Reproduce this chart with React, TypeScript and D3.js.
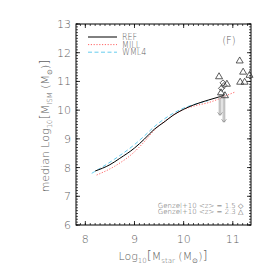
import React from "react";
import { scaleLinear, line, curveMonotoneX, range } from "d3";

// median relation curves (log Mstar, log MISM)
const refX = [8.2, 8.5, 8.7, 9.0, 9.2, 9.4, 9.6, 9.8, 10.0, 10.2, 10.5, 10.7, 10.82];
const refY = [7.88, 8.1, 8.32, 8.68, 8.99, 9.33, 9.58, 9.84, 10.03, 10.18, 10.35, 10.45, 10.52];

const millX = [8.23, 8.6, 9.0, 9.2, 9.4, 9.7, 10.0, 10.3, 10.5, 10.7, 10.9, 11.06];
const millY = [7.74, 8.05, 8.55, 8.9, 9.3, 9.72, 10.02, 10.18, 10.26, 10.38, 10.53, 10.64];

const wmlX = [8.13, 8.6, 9.0, 9.2, 9.4, 9.7, 10.0, 10.3, 10.5];
const wmlY = [7.8, 8.3, 8.8, 9.1, 9.42, 9.8, 10.07, 10.24, 10.33];

// Genzel+10 observations
const z15X = [10.8, 10.82, 10.77];
const z15Y = [10.95, 10.86, 10.76];
const z23X = [10.72, 10.88, 10.76, 10.84, 11.14, 11.21, 11.15, 11.24, 11.34];
const z23Y = [11.18, 10.92, 10.62, 10.52, 11.73, 11.34, 10.99, 10.99, 11.23];
const limX = [10.74, 10.82];
const limTop = [10.56, 10.52];
const limBot = [9.82, 9.58];

const xTicks = [8, 9, 10, 11];
const yTicks = [6, 7, 8, 9, 10, 11, 12, 13];

const legendNames = ["REF", "MILL", "WML4"];
const legendColors = ["#000000", "#ff6666", "#66ccee"];
const legendDash = ["none", "1.2,1.6", "4,2.5"];

export default function App() {
  const W = 274, H = 274;
  const left = 76, right = 251, top = 24, bottom = 225;
  const x = scaleLinear().domain([7.81, 11.37]).range([left, right]);
  const y = scaleLinear().domain([6, 13]).range([bottom, top]);
  const txt = "#606060";
  const font = "DejaVu Sans, sans-serif";

  const mk = (xs: number[], ys: number[]) =>
    line<number>().x((d) => x(xs[d])).y((d) => y(ys[d])).curve(curveMonotoneX)(range(xs.length)) as string;

  const xMinor = range(78, 114).map((d) => d / 10).filter((d) => x(d) >= left && x(d) <= right);
  const yMinor = range(60, 131).map((d) => d / 10);

  const tri = (cx: number, cy: number) =>
    `M${cx},${cy - 3.5}L${cx + 3.5},${cy + 2.5}L${cx - 3.5},${cy + 2.5}Z`;
  const dia = (cx: number, cy: number) =>
    `M${cx},${cy - 3}L${cx + 3},${cy}L${cx},${cy + 3}L${cx - 3},${cy}Z`;

  return (
    <svg width={W} height={H} style={{ position: "absolute", left: 0, top: 0, background: "#fff" }}>
      <g fontFamily={font} fontWeight={200} fill={txt}>
        {/* ticks */}
        {xMinor.map((d) => (
          <g key={"xm" + d} stroke="#000" strokeWidth={0.7}>
            <line x1={x(d)} x2={x(d)} y1={bottom} y2={bottom - 2} />
            <line x1={x(d)} x2={x(d)} y1={top} y2={top + 2} />
          </g>
        ))}
        {yMinor.map((d) => (
          <g key={"ym" + d} stroke="#000" strokeWidth={0.7}>
            <line x1={left} x2={left + 2} y1={y(d)} y2={y(d)} />
            <line x1={right} x2={right - 2} y1={y(d)} y2={y(d)} />
          </g>
        ))}
        {xTicks.map((d) => (
          <g key={"xt" + d}>
            <line x1={x(d)} x2={x(d)} y1={bottom} y2={bottom - 4} stroke="#000" strokeWidth={0.8} />
            <line x1={x(d)} x2={x(d)} y1={top} y2={top + 4} stroke="#000" strokeWidth={0.8} />
            <text x={x(d)} y={243} fontSize={11} textAnchor="middle">{d}</text>
          </g>
        ))}
        {yTicks.map((d) => (
          <g key={"yt" + d}>
            <line x1={left} x2={left + 4} y1={y(d)} y2={y(d)} stroke="#000" strokeWidth={0.8} />
            <line x1={right} x2={right - 4} y1={y(d)} y2={y(d)} stroke="#000" strokeWidth={0.8} />
            <text x={71} y={y(d) + 4} fontSize={11} textAnchor="end">{d}</text>
          </g>
        ))}
        <rect x={left} y={top} width={right - left} height={bottom - top} fill="none" stroke="#000" strokeWidth={1} />

        {/* curves */}
        <path d={mk(wmlX, wmlY)} fill="none" stroke={legendColors[2]} strokeWidth={1} strokeDasharray={legendDash[2]} />
        <path d={mk(millX, millY)} fill="none" stroke={legendColors[1]} strokeWidth={1} strokeDasharray={legendDash[1]} />
        <path d={mk(refX, refY)} fill="none" stroke={legendColors[0]} strokeWidth={1} />

        {/* upper limits */}
        {limX.map((d, i) => (
          <g key={"lim" + i} stroke="#888" strokeWidth={0.7} fill="none">
            <line x1={x(d) - 0.8} x2={x(d) - 0.8} y1={y(limTop[i])} y2={y(limBot[i])} />
            <line x1={x(d) + 0.8} x2={x(d) + 0.8} y1={y(limTop[i])} y2={y(limBot[i])} />
            <path d={`M${x(d) - 2.5},${y(limBot[i]) - 3}L${x(d)},${y(limBot[i])}L${x(d) + 2.5},${y(limBot[i]) - 3}`} />
          </g>
        ))}
        {z15X.map((d, i) => (
          <path key={"d" + i} d={dia(x(d), y(z15Y[i]))} fill="none" stroke="#333" strokeWidth={0.8} />
        ))}
        {z23X.map((d, i) => (
          <path key={"t" + i} d={tri(x(d), y(z23Y[i]))} fill="none" stroke="#333" strokeWidth={0.8} />
        ))}

        {/* legend */}
        {legendNames.map((n, i) => (
          <g key={n}>
            <line x1={88} x2={117} y1={37 + i * 7.6} y2={37 + i * 7.6} stroke={legendColors[i]} strokeWidth={1} strokeDasharray={legendDash[i]} />
            <text x={122} y={40 + i * 7.6} fontSize={8}>{n}</text>
          </g>
        ))}
        <text x={229} y={44} fontSize={10} textAnchor="middle">(F)</text>

        <text x={243} y={207.5} fontSize={7} textAnchor="end">{"Genzel+10 <z> = 1.5 \u25C7"}</text>
        <text x={243} y={214} fontSize={7} textAnchor="end">{"Genzel+10 <z> = 2.3 \u25B3"}</text>

        {/* axis titles */}
        <text x={163} y={260} fontSize={11} textAnchor="middle">
          Log<tspan fontSize={7} dy={3}>10</tspan>
          <tspan dy={-3} fontSize={13}>[</tspan>M<tspan fontSize={7} dy={3}>star</tspan>
          <tspan dy={-3}> (M</tspan><tspan fontSize={7} dy={3}>{"\u2299"}</tspan>
          <tspan dy={-3}>)</tspan><tspan fontSize={13}>]</tspan>
        </text>
        <text transform={`translate(49,126) rotate(-90)`} fontSize={11} textAnchor="middle">
          median Log<tspan fontSize={7} dy={3}>10</tspan>
          <tspan dy={-3} fontSize={13}>[</tspan>M<tspan fontSize={7} dy={3}>ISM</tspan>
          <tspan dy={-3}> (M</tspan><tspan fontSize={7} dy={3}>{"\u2299"}</tspan>
          <tspan dy={-3}>)</tspan><tspan fontSize={13}>]</tspan>
        </text>
      </g>
    </svg>
  );
}
